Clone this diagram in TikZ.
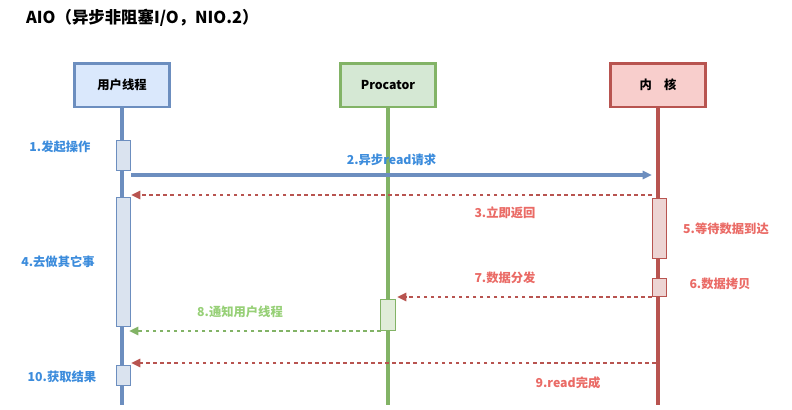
\documentclass[tikz,border=0pt]{standalone}
\usepackage{fontspec}
\setmainfont{Noto Sans CJK SC}
\usetikzlibrary{arrows.meta}
\definecolor{ublue}{HTML}{6C8EBF}
\definecolor{ufill}{HTML}{DAE8FC}
\definecolor{pgreen}{HTML}{82B366}
\definecolor{pfill}{HTML}{D5E8D4}
\definecolor{kred}{HTML}{B85450}
\definecolor{kfill}{HTML}{F8CECC}
\definecolor{tblue}{HTML}{3C8CDC}
\definecolor{tred}{HTML}{EA6B66}
\definecolor{tgreen}{HTML}{97D077}
\begin{document}
\begin{tikzpicture}[x=0.03cm,y=-0.03cm,>={Triangle[length=8pt,width=7pt]},
  font=\bfseries\fontsize{10.5}{12}\selectfont]
  \tikzset{
    head/.style={draw=#1,line width=2pt,minimum width=2.85cm,minimum height=1.3cm},
    life/.style={line width=3pt,draw=#1},
    act/.style={draw=#1,fill=#1!25,minimum width=0.42cm,inner sep=0pt},
    call/.style={->,line width=2.6pt,draw=#1},
    reply/.style={->,line width=2.2pt,dashed,draw=#1},
    lbl/.style={text=#1}
  }
  \useasboundingbox (0,0) rectangle (792,409);
  \node[anchor=west,font=\bfseries\fontsize{14}{16}\selectfont] (title) at (22,18) {AIO（异步非阻塞I/O，NIO.2）};
  % heads
  \node[head=ublue,fill=ufill] (user) at (122,85) {用户线程};
  \node[head=pgreen,fill=pfill] (proc) at (388,85) {Procator};
  \node[head=kred,fill=kfill] (kern) at (658,85) {内\quad 核};
  % lifelines
  \coordinate (ue) at (122,405);
  \coordinate (pe) at (388,405);
  \coordinate (ke) at (658,405);
  \draw[life=ublue] (user) -- (ue);
  \draw[life=pgreen] (proc) -- (pe);
  \draw[life=kred] (kern) -- (ke);
  % activations
  \node[act=ublue,minimum height=0.9cm] (a1) at (123,155) {};
  \node[act=ublue,minimum height=3.87cm] (a2) at (123,262) {};
  \node[act=ublue,minimum height=0.6cm] (a3) at (123,375) {};
  \node[act=kred,minimum height=1.8cm] (k1) at (659,228) {};
  \node[act=kred,minimum height=0.54cm] (k2) at (659,287) {};
  \node[act=pgreen,minimum height=0.93cm,minimum width=0.45cm] (p1) at (388,315) {};
  % messages
  \coordinate (m2a) at (131,175); \coordinate (m2b) at (652,175);
  \draw[call=ublue] (m2a) -- node[lbl=tblue,above=3pt] {2.异步read请求} (m2b);
  \coordinate (m3a) at (652,195); \coordinate (m3b) at (131,195);
  \draw[reply=kred] (m3a) -- (m3b);
  \coordinate (m7a) at (652,297); \coordinate (m7b) at (397,297);
  \draw[reply=kred] (m7a) -- (m7b);
  \coordinate (m8a) at (381,331); \coordinate (m8b) at (129,331);
  \draw[reply=pgreen] (m8a) -- (m8b);
  \coordinate (m9a) at (656,363); \coordinate (m9b) at (131,363);
  \draw[reply=kred] (m9a) -- (m9b);
  % labels
  \node[lbl=tred] (l3) at (505,213) {3.立即返回};
  \node[lbl=tred] (l7) at (505,278) {7.数据分发};
  \node[lbl=tgreen] (l8) at (240,312) {8.通知用户线程};
  \node[lbl=tred] (l9) at (568,383) {9.read完成};
  \node[lbl=tblue] (l1) at (60,147) {1.发起操作};
  \node[lbl=tblue] (l4) at (58,262) {4.去做其它事};
  \node[lbl=tblue] (l10) at (62,377) {10.获取结果};
  \node[lbl=tred] (l5) at (726,229) {5.等待数据到达};
  \node[lbl=tred] (l6) at (720,284) {6.数据拷贝};
\end{tikzpicture}
\end{document}
